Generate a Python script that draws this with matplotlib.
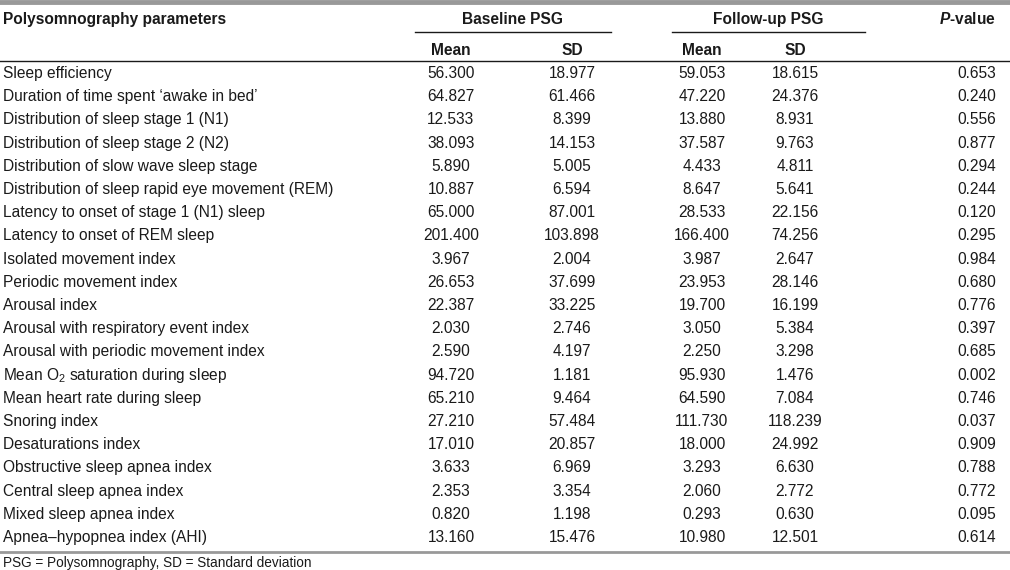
import matplotlib.pyplot as plt

plt.rcParams['font.family'] = ['Liberation Sans', 'DejaVu Sans']
plt.rcParams['mathtext.fontset'] = 'custom'
plt.rcParams['mathtext.rm'] = 'Liberation Sans'
plt.rcParams['mathtext.it'] = 'Liberation Sans:italic'
plt.rcParams['mathtext.bfit'] = 'Liberation Sans:italic:bold'

params = [
    "Sleep efficiency",
    "Duration of time spent \u2018awake in bed\u2019",
    "Distribution of sleep stage 1 (N1)",
    "Distribution of sleep stage 2 (N2)",
    "Distribution of slow wave sleep stage",
    "Distribution of sleep rapid eye movement (REM)",
    "Latency to onset of stage 1 (N1) sleep",
    "Latency to onset of REM sleep",
    "Isolated movement index",
    "Periodic movement index",
    "Arousal index",
    "Arousal with respiratory event index",
    "Arousal with periodic movement index",
    "Mean O$_2$ saturation during sleep",
    "Mean heart rate during sleep",
    "Snoring index",
    "Desaturations index",
    "Obstructive sleep apnea index",
    "Central sleep apnea index",
    "Mixed sleep apnea index",
    "Apnea\u2013hypopnea index (AHI)",
]
base_mean = ["56.300", "64.827", "12.533", "38.093", "5.890", "10.887", "65.000", "201.400",
             "3.967", "26.653", "22.387", "2.030", "2.590", "94.720", "65.210", "27.210",
             "17.010", "3.633", "2.353", "0.820", "13.160"]
base_sd = ["18.977", "61.466", "8.399", "14.153", "5.005", "6.594", "87.001", "103.898",
           "2.004", "37.699", "33.225", "2.746", "4.197", "1.181", "9.464", "57.484",
           "20.857", "6.969", "3.354", "1.198", "15.476"]
follow_mean = ["59.053", "47.220", "13.880", "37.587", "4.433", "8.647", "28.533", "166.400",
               "3.987", "23.953", "19.700", "3.050", "2.250", "95.930", "64.590", "111.730",
               "18.000", "3.293", "2.060", "0.293", "10.980"]
follow_sd = ["18.615", "24.376", "8.931", "9.763", "4.811", "5.641", "22.156", "74.256",
             "2.647", "28.146", "16.199", "5.384", "3.298", "1.476", "7.084", "118.239",
             "24.992", "6.630", "2.772", "0.630", "12.501"]
p_value = ["0.653", "0.240", "0.556", "0.877", "0.294", "0.244", "0.120", "0.295",
           "0.984", "0.680", "0.776", "0.397", "0.685", "0.002", "0.746", "0.037",
           "0.909", "0.788", "0.772", "0.095", "0.614"]

fig = plt.figure(figsize=(10.1, 5.7), dpi=100)
ax = fig.add_axes([0, 0, 1, 1])
ax.set_xlim(0, 1010)
ax.set_ylim(570, 0)
ax.axis('off')

fs = 11.2
gray = '#999999'
ink = '#1a1a1a'
off = 5  # baseline offset from row centre, px

# rules
ax.axhline(2, color=gray, lw=3.5)
ax.plot([415, 611], [32, 32], color=ink, lw=1)
ax.plot([672, 865], [32, 32], color=ink, lw=1)
ax.axhline(61, color=ink, lw=1)
ax.axhline(551.5, color=gray, lw=2)

# header
ax.text(3, 19 + off, "Polysomnography parameters", fontsize=fs, fontweight='bold', va='baseline', color=ink)
ax.text(513, 19 + off, "Baseline PSG", fontsize=fs, fontweight='bold', va='baseline', ha='center', color=ink)
ax.text(768, 19 + off, "Follow-up PSG", fontsize=fs, fontweight='bold', va='baseline', ha='center', color=ink)
ax.text(996, 19 + off, r"$\mathbfit{P}$-value", fontsize=fs, fontweight='bold', va='baseline', ha='right', color=ink)

cols = [451, 572, 702, 795]
for x, lab in zip(cols, ["Mean", "SD", "Mean", "SD"]):
    ax.text(x, 50 + off, lab, fontsize=fs, fontweight='bold', va='baseline', ha='center', color=ink)

y0 = 73
dy = (537 - 73) / 20
for i, name in enumerate(params):
    y = y0 + i * dy + off
    ax.text(3, y, name, fontsize=fs, va='baseline', color=ink)
    for x, col in zip(cols, [base_mean, base_sd, follow_mean, follow_sd]):
        ax.text(x, y, col[i], fontsize=fs, va='baseline', ha='center', color=ink)
    ax.text(977, y, p_value[i], fontsize=fs, va='baseline', ha='center', color=ink)

ax.text(3, 563 + 4, "PSG = Polysomnography, SD = Standard deviation", fontsize=9.8, va='baseline', color=ink)

fig.savefig("out.png", dpi=100)
